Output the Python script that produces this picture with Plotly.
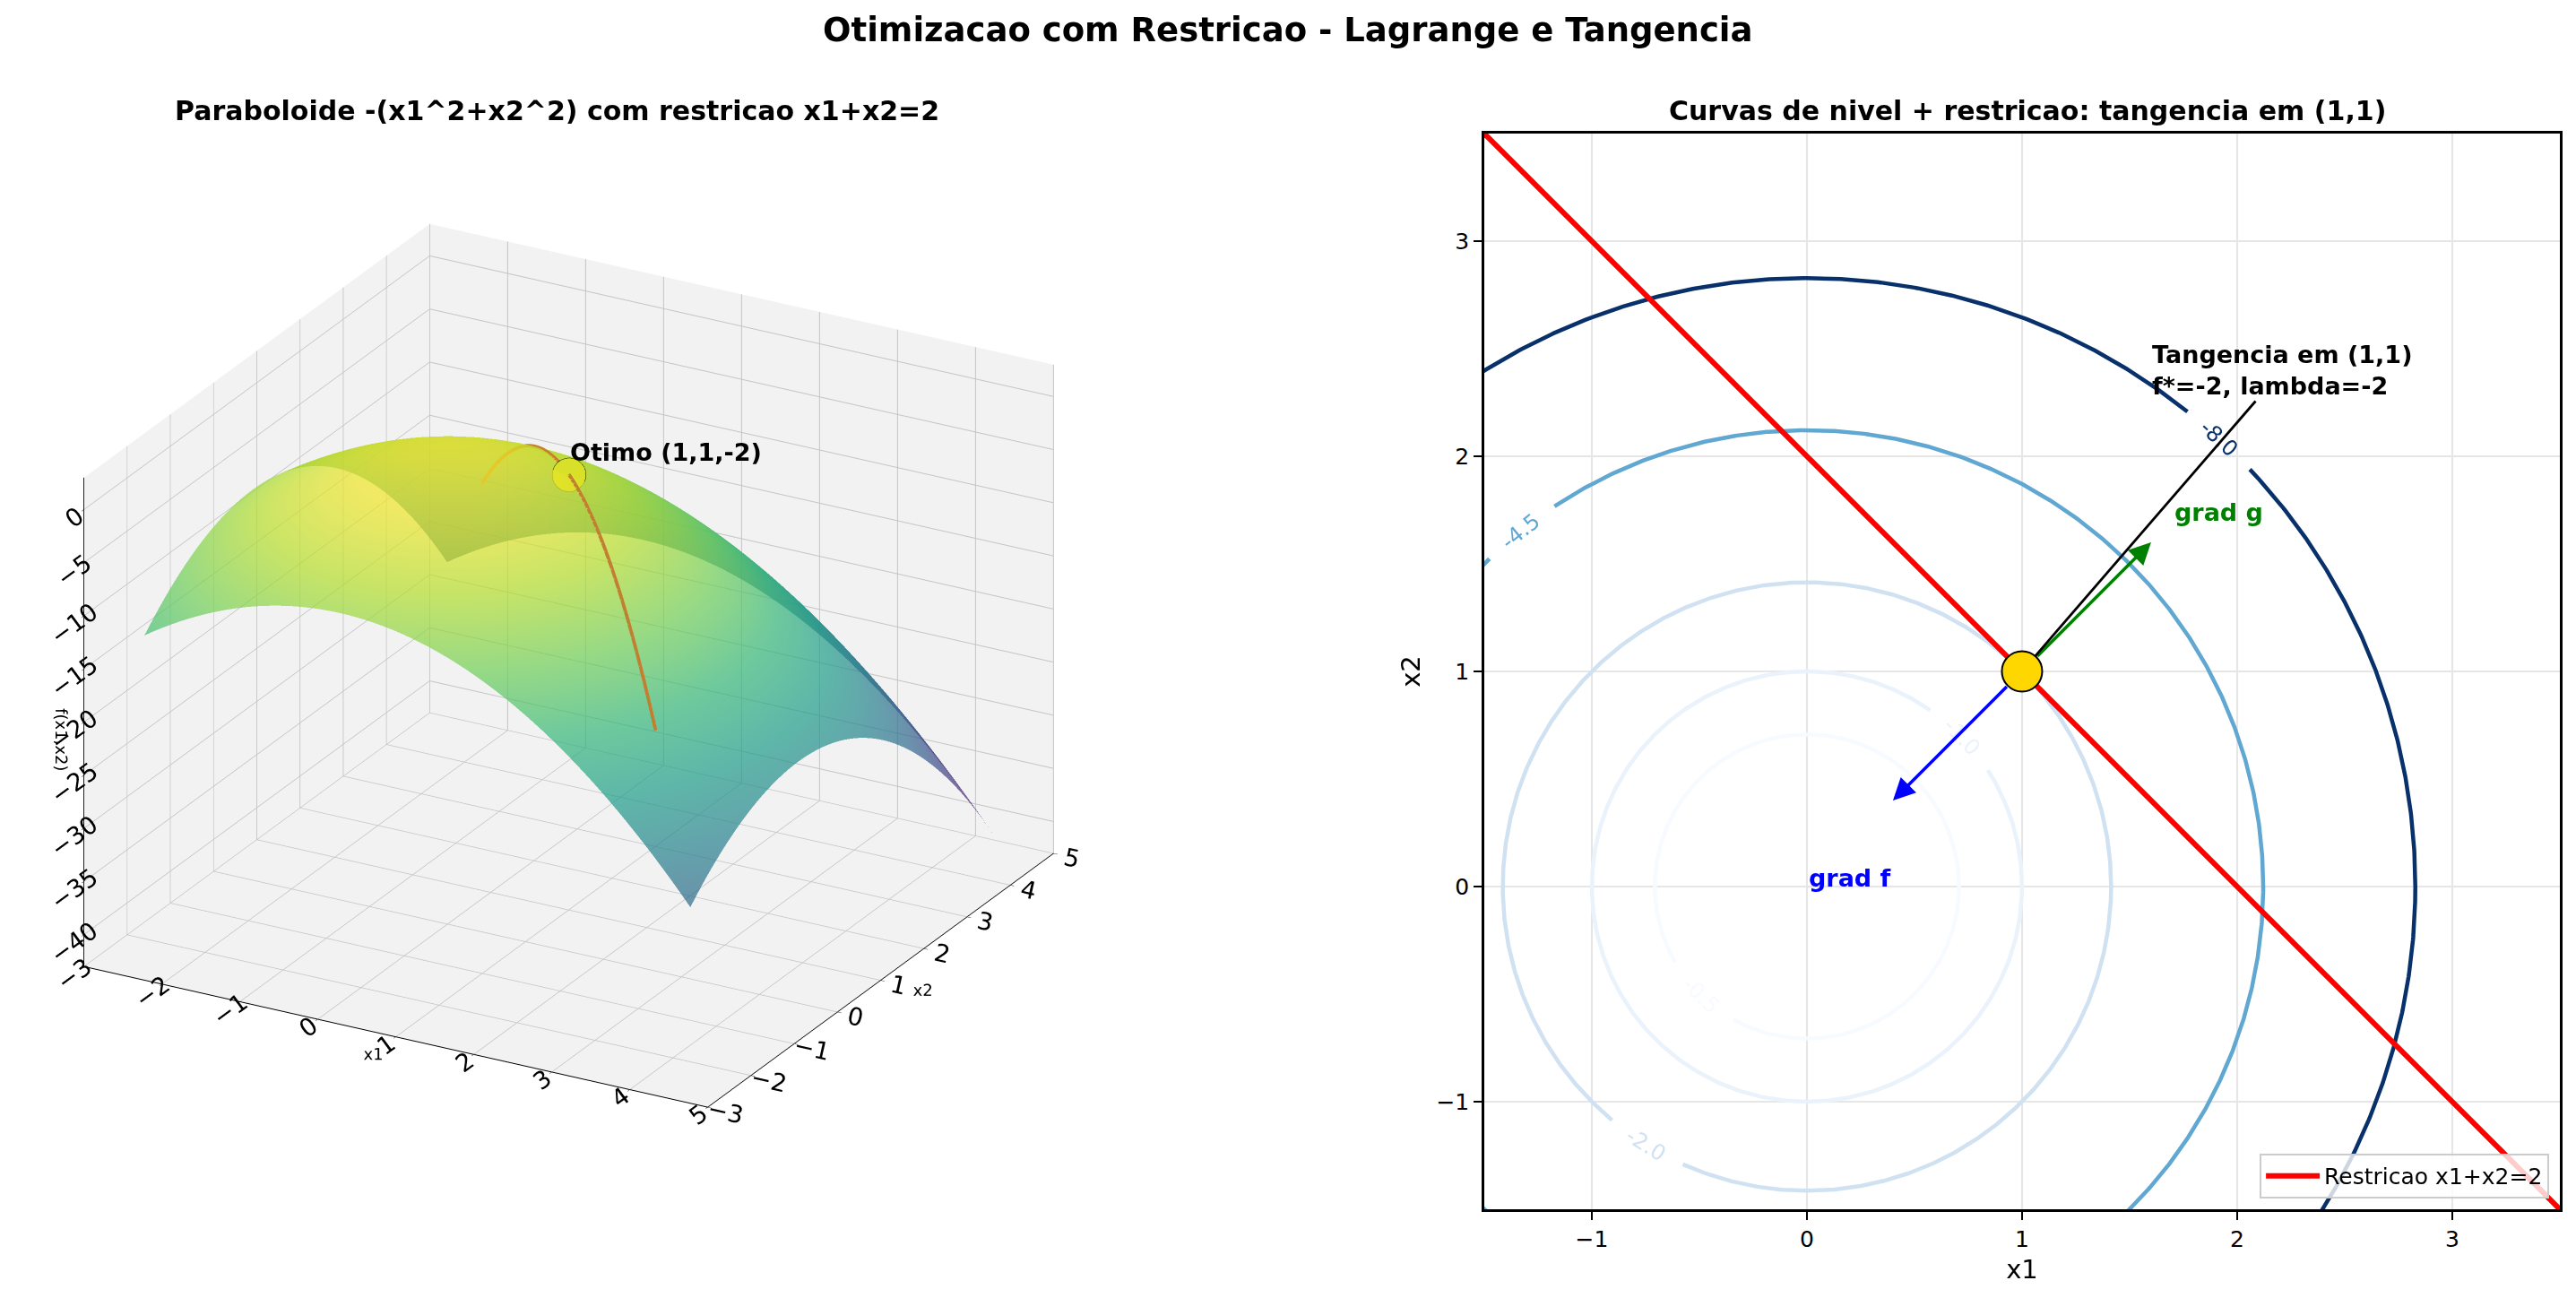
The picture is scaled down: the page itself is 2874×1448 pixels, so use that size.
import numpy as np
import plotly.graph_objects as go

# --- dados ---
grid_3d = np.linspace(-2.5, 4.5, 60)      # malha do paraboloide
t_restr = np.linspace(-1.5, 3.5, 80)      # parametro da curva x1+x2=2
lim_2d = [-1.5, 3.5]
c_restr = 2.0
niveis = [-8.0, -4.5, -2.0, -1.0, -0.5]
cores_niveis = ['#08306b', '#60a7d2', '#d0e1f2', '#eaf2fb', '#f7fbff']
ang_rotulos = [47.4, 128.9, 238.0, 44.0, 225.6]   # onde ficam os rotulos (graus)
x_opt = [1.0]
y_opt = [1.0]
f_opt = [-2.0]
grad_f = [-2.0, -2.0]
grad_g = [1.0, 1.0]
lambda_opt = -2
ticks_xy_3d = [-3, -2, -1, 0, 1, 2, 3, 4, 5]
ticks_z_3d = [0, -5, -10, -15, -20, -25, -30, -35, -40]
ticks_2d = [-1, 0, 1, 2, 3]

FONT = 'DejaVu Sans'
PX_POR_UNIDADE = 240.0


def f(x1, x2):
    return -(x1 ** 2 + x2 ** 2)


fig = go.Figure()

# --- painel 3D ---
X, Y = np.meshgrid(grid_3d, grid_3d)
fig.add_trace(go.Surface(x=grid_3d, y=grid_3d, z=f(X, Y), colorscale='Viridis',
                         opacity=0.7, showscale=False, scene='scene',
                         lighting=dict(ambient=0.85, diffuse=0.4, specular=0.05)))

x1_c = t_restr
x2_c = c_restr - t_restr
fig.add_trace(go.Scatter3d(x=x1_c, y=x2_c, z=f(x1_c, x2_c), mode='lines',
                           line=dict(color='#c08030', width=8), showlegend=False,
                           scene='scene'))
fig.add_trace(go.Scatter3d(x=x_opt, y=y_opt, z=f_opt, mode='markers',
                           marker=dict(size=22, color='#d8e02a', line=dict(color='black', width=2)),
                           showlegend=False, scene='scene'))

axis3d = dict(showbackground=True, backgroundcolor='#f2f2f2', gridcolor='#c4c4c4',
              gridwidth=2, zeroline=False, showspikes=False, showline=True,
              linecolor='black', linewidth=2, ticks='outside', tickcolor='black',
              tickfont=dict(family=FONT, size=18, color='black'))

el, az, dist = np.radians(24.0), np.radians(-61.0), 2.0
esc_box = 1.35
fig.update_layout(scene=dict(
    domain=dict(x=[0.0, 0.4414], y=[0.08, 0.894]),
    xaxis=dict(axis3d, title=dict(text='x1', font=dict(family=FONT, size=18)),
               range=[-3, 5], tickvals=ticks_xy_3d),
    yaxis=dict(axis3d, title=dict(text='x2', font=dict(family=FONT, size=18)),
               range=[-3, 5], tickvals=ticks_xy_3d),
    zaxis=dict(axis3d, title=dict(text='f(x1,x2)', font=dict(family=FONT, size=18)),
               range=[-43, 3], tickvals=ticks_z_3d),
    aspectmode='manual', aspectratio=dict(x=esc_box, y=esc_box, z=0.75 * esc_box),
    camera=dict(eye=dict(x=dist * np.cos(el) * np.cos(az), y=dist * np.cos(el) * np.sin(az),
                         z=dist * np.sin(el)),
                projection=dict(type='orthographic')),
    annotations=[dict(x=x_opt[0], y=y_opt[0], z=f_opt[0],
                      text='<b>Otimo (%d,%d,%d)</b>' % (x_opt[0], y_opt[0], f_opt[0]),
                      showarrow=False, xanchor='left', yanchor='bottom', yshift=8,
                      font=dict(family=FONT, size=27, color='black'))],
))

# --- painel 2D: curvas de nivel (f = c  ->  circulo de raio sqrt(-c)) ---
anns = []
theta = np.linspace(0, 2 * np.pi, 1440)
for nivel, cor, ang in zip(niveis, cores_niveis, ang_rotulos):
    r = np.sqrt(-nivel)
    gap = 46.0 / (r * PX_POR_UNIDADE)          # meia abertura para o rotulo (rad)
    a0 = np.radians(ang)
    d = np.angle(np.exp(1j * (theta - a0)))
    xs = r * np.cos(theta)
    ys = r * np.sin(theta)
    xs[np.abs(d) < gap] = np.nan
    ys[np.abs(d) < gap] = np.nan
    fig.add_trace(go.Scatter(x=xs, y=ys, mode='lines', line=dict(color=cor, width=4.5),
                             hoverinfo='skip', showlegend=False, xaxis='x', yaxis='y'))
    rot = ang + 90.0
    rot = (rot + 90.0) % 180.0 - 90.0
    anns.append(dict(x=r * np.cos(a0), y=r * np.sin(a0), xref='x', yref='y',
                     text='%.1f' % nivel, showarrow=False, textangle=-rot,
                     font=dict(family=FONT, size=24, color=cor)))

x_line = np.array(lim_2d)
fig.add_trace(go.Scatter(x=x_line, y=c_restr - x_line, mode='lines',
                         line=dict(color='red', width=6),
                         name='Restricao x1+x2=2', xaxis='x', yaxis='y'))
fig.add_trace(go.Scatter(x=x_opt, y=y_opt, mode='markers',
                         marker=dict(size=45, color='#FFD700', line=dict(color='black', width=2)),
                         showlegend=False, xaxis='x', yaxis='y'))

axis2d = dict(range=lim_2d, tickvals=ticks_2d, showgrid=True, gridcolor='#e6e6e6',
              gridwidth=2, zeroline=False, showline=True, mirror=True, linecolor='black',
              linewidth=2.5, ticks='outside', ticklen=9, tickwidth=2, tickcolor='black',
              tickfont=dict(family=FONT, size=25, color='black'))
fig.update_layout(
    xaxis=dict(axis2d, domain=[0.5762, 0.9937], anchor='y',
               title=dict(text='x1', font=dict(family=FONT, size=29), standoff=10)),
    yaxis=dict(axis2d, domain=[0.0684, 0.8971], anchor='x',
               title=dict(text='x2', font=dict(family=FONT, size=29), standoff=10)),
)

esc_f, esc_g = 0.3, 0.6
anns += [
    dict(x=x_opt[0] + esc_f * grad_f[0], y=y_opt[0] + esc_f * grad_f[1],
         ax=x_opt[0], ay=y_opt[0], axref='x', ayref='y', xref='x', yref='y',
         text='', showarrow=True, arrowhead=2, arrowsize=1.4, arrowwidth=3.5,
         arrowcolor='blue', startstandoff=22),
    dict(x=x_opt[0] + esc_g * grad_g[0], y=y_opt[0] + esc_g * grad_g[1],
         ax=x_opt[0], ay=y_opt[0], axref='x', ayref='y', xref='x', yref='y',
         text='', showarrow=True, arrowhead=2, arrowsize=1.4, arrowwidth=3.5,
         arrowcolor='green', startstandoff=22),
    dict(x=0.0, y=0.0, xref='x', yref='y', text='<b>grad f</b>', showarrow=False,
         xanchor='left', yanchor='bottom', yshift=-8,
         font=dict(family=FONT, size=27, color='blue')),
    dict(x=1.7, y=1.7, xref='x', yref='y', text='<b>grad g</b>', showarrow=False,
         xanchor='left', yanchor='bottom', yshift=-8,
         font=dict(family=FONT, size=27, color='green')),
    dict(x=x_opt[0], y=y_opt[0], xref='x', yref='y', ax=2.21, ay=2.40, axref='x', ayref='y',
         text='<b>Tangencia em (%d,%d)<br>f*=%d, lambda=%d</b>' % (x_opt[0], y_opt[0], f_opt[0], lambda_opt),
         align='left', showarrow=True, arrowhead=0, arrowwidth=2.8, arrowcolor='black',
         standoff=22, font=dict(family=FONT, size=27, color='black')),
    # titulos
    dict(x=0.5, y=0.977, xref='paper', yref='paper', showarrow=False,
         xanchor='center', yanchor='middle',
         text='<b>Otimizacao com Restricao - Lagrange e Tangencia</b>',
         font=dict(family=FONT, size=37, color='black')),
    dict(x=0.2164, y=0.915, xref='paper', yref='paper', showarrow=False,
         xanchor='center', yanchor='middle',
         text='<b>Paraboloide -(x1^2+x2^2) com restricao x1+x2=2</b>',
         font=dict(family=FONT, size=30, color='black')),
    dict(x=0.787, y=0.915, xref='paper', yref='paper', showarrow=False,
         xanchor='center', yanchor='middle',
         text='<b>Curvas de nivel + restricao: tangencia em (1,1)</b>',
         font=dict(family=FONT, size=30, color='black')),
]

fig.update_layout(
    width=2874, height=1448,
    margin=dict(l=0, r=0, t=0, b=0),
    paper_bgcolor='white', plot_bgcolor='white',
    font=dict(family=FONT, color='black'),
    annotations=anns,
    legend=dict(x=0.9896, y=0.0767, xanchor='right', yanchor='bottom',
                bgcolor='rgba(255,255,255,0.8)', bordercolor='#cccccc', borderwidth=2,
                font=dict(family=FONT, size=25), itemwidth=60),
    showlegend=True,
)

fig.write_html("out.html", config={'displayModeBar': False},
               post_script="document.body.style.margin='0';")
